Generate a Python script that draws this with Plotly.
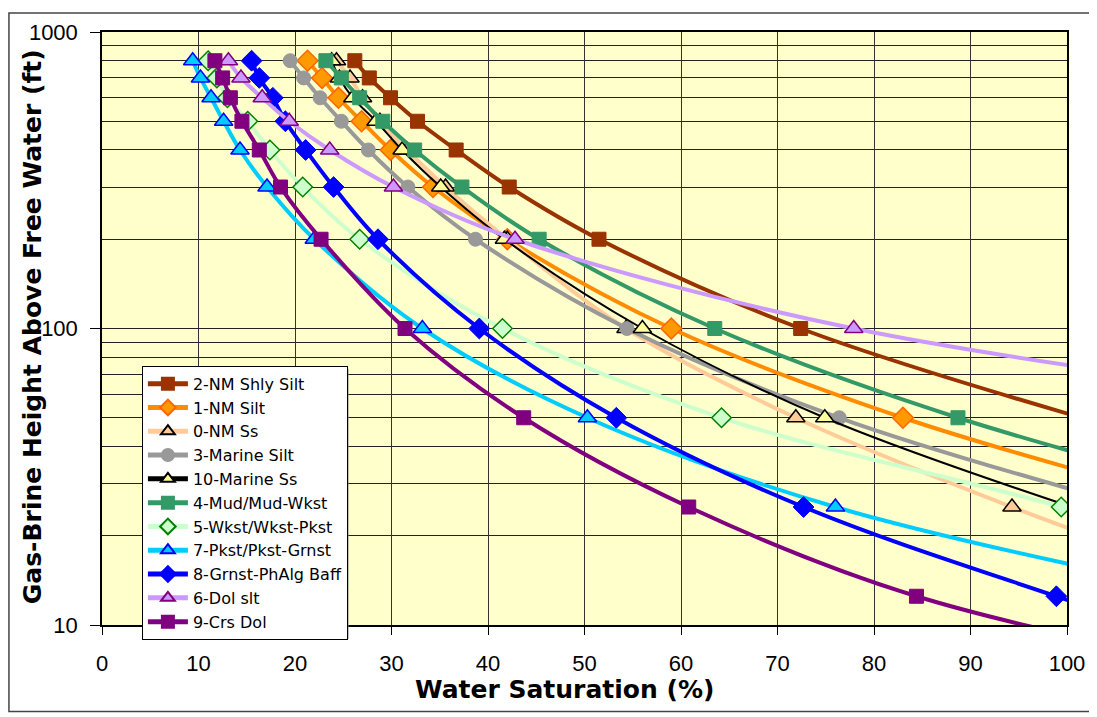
import plotly.graph_objects as go

# Gas-brine heights (ft) at which each curve is sampled
heights = [800, 700, 600, 500, 400, 300, 200, 100, 50, 25, 12.5, 6.25]

# Water saturation (%) read at each height (values > 100 lie past the right edge)
sw_2nm_shly_silt = [26.2, 27.7, 29.9, 32.7, 36.7, 42.2, 51.5, 72.4, 101.5]
sw_1nm_silt = [21.3, 22.8, 24.5, 26.9, 29.9, 34.3, 42.0, 59.0, 83.0, 115.0]
sw_0nm_ss = [24.3, 25.7, 27.0, 28.8, 31.6, 35.6, 42.0, 54.3, 71.9, 94.3, 120.0]
sw_3marine_silt = [19.5, 20.9, 22.6, 24.8, 27.6, 31.7, 38.7, 54.4, 76.4, 107.0]
sw_10marine_ss = [23.8, 24.6, 26.0, 28.4, 31.1, 35.1, 41.7, 56.0, 74.9, 100.5]
sw_4mud = [23.2, 24.8, 26.7, 29.1, 32.4, 37.3, 45.3, 63.5, 88.7, 122.0]
sw_5wkst = [11.0, 11.9, 13.0, 15.1, 17.4, 20.8, 26.7, 41.5, 64.2, 99.4, 130.0]
sw_7pkst = [9.4, 10.2, 11.3, 12.6, 14.3, 17.1, 22.0, 33.2, 50.3, 76.0, 116.0]
sw_8grnst = [15.5, 16.3, 17.7, 19.0, 21.1, 24.0, 28.6, 39.1, 53.3, 72.7, 98.9, 128.0]
sw_6dol_slt = [13.1, 14.4, 16.6, 19.4, 23.6, 30.2, 42.8, 77.9, 140.0]
sw_9crs_dol = [11.7, 12.5, 13.3, 14.5, 16.3, 18.5, 22.7, 31.4, 43.7, 60.8, 84.4, 125.0]

series_names = ["2-NM Shly Silt", "1-NM Silt", "0-NM Ss", "3-Marine Silt", "10-Marine Ss",
                "4-Mud/Mud-Wkst", "5-Wkst/Wkst-Pkst", "7-Pkst/Pkst-Grnst",
                "8-Grnst-PhAlg Baff", "6-Dol slt", "9-Crs Dol"]

x_ticks = [0, 10, 20, 30, 40, 50, 60, 70, 80, 90, 100]
y_ticks = [10, 100, 1000]

styles = [
    # (values, line colour, line width, symbol, fill, edge colour, edge width, size)
    (sw_2nm_shly_silt, "#993300", 4, "square", "#993300", "#993300", 1, 14),
    (sw_1nm_silt, "#FF8C00", 4, "diamond", "#FF9900", "#FF6600", 1.5, 16),
    (sw_0nm_ss, "#FFCC99", 4, "triangle-up", "#FFCC99", "#000000", 1.5, 16),
    (sw_3marine_silt, "#999999", 4, "circle", "#999999", "#999999", 1, 14),
    (sw_10marine_ss, "#000000", 2, "triangle-up", "#FFFF99", "#000000", 1.5, 16),
    (sw_4mud, "#339966", 4, "square", "#339966", "#339966", 1, 14),
    (sw_5wkst, "#CCFFCC", 4, "diamond", "#CCFFCC", "#008000", 1.5, 15),
    (sw_7pkst, "#00CCFF", 4, "triangle-up", "#00CCFF", "#0000FF", 1.5, 16),
    (sw_8grnst, "#0000FF", 4, "diamond", "#0000FF", "#0000FF", 1, 16),
    (sw_6dol_slt, "#CC99FF", 4, "triangle-up", "#CC99FF", "#800080", 1.5, 16),
    (sw_9crs_dol, "#800080", 4, "square", "#800080", "#800080", 1, 14),
]

fig = go.Figure()
for name, (vals, lc, lw, sym, fc, ec, ew, ms) in zip(series_names, styles):
    fig.add_trace(go.Scatter(
        x=vals, y=heights[:len(vals)], name=name, mode="lines+markers",
        line=dict(color=lc, width=lw, shape="spline", smoothing=1.0),
        marker=dict(symbol=sym, color=fc, size=ms, line=dict(color=ec, width=ew)),
    ))

# page has an 8px body margin, so the figure is 8px smaller than the window
W, H = 1089, 709
ML, MR, MT, MB = 94, 28, 20, 92
PW, PH = W - ML - MR, H - MT - MB
PX0, PY1 = 102, 625  # plot-area left / bottom in page pixels


def px_x(p):
    return (p - PX0) / PW


def px_y(p):
    return (PY1 - p) / PH


fig.update_layout(
    width=W, height=H,
    margin=dict(l=ML, r=MR, t=MT, b=MB),
    paper_bgcolor="white", plot_bgcolor="#FFFFCC",
    font=dict(family="Liberation Sans, Arial", color="black"),
    showlegend=True,
    legend=dict(
        x=px_x(142), y=px_y(364), xanchor="left", yanchor="top",
        bgcolor="white", bordercolor="black", borderwidth=1,
        font=dict(size=16, family="DejaVu Sans", color="black"),
        tracegroupgap=0, itemsizing="constant", itemwidth=40,
    ),
)

fig.update_xaxes(
    range=[0, 100], tickvals=x_ticks, ticks="outside", ticklen=8, tickcolor="black",
    tickfont=dict(size=22), ticklabelstandoff=10,
    showgrid=True, gridcolor="#333333", gridwidth=1,
    showline=True, linecolor="black", linewidth=1.5, mirror=True, zeroline=False,
)
fig.update_yaxes(
    type="log", range=[1, 3], tickvals=y_ticks, ticktext=[str(v) for v in y_ticks],
    ticks="outside", ticklen=10, tickcolor="black", tickfont=dict(size=22),
    ticklabelstandoff=8,
    showgrid=True, gridcolor="#222222", gridwidth=1,
    minor=dict(dtick="D1", showgrid=True, gridcolor="#222222", gridwidth=1, ticks=""),
    showline=True, linecolor="black", linewidth=1.5, mirror=True,
)

fig.add_annotation(text="<b>Water Saturation (%)</b>", xref="paper", yref="paper",
                   x=px_x(565), y=px_y(690), xanchor="center", yanchor="middle",
                   showarrow=False, font=dict(size=25, family="DejaVu Sans"))
fig.add_annotation(text="<b>Gas-Brine Height Above Free Water (ft)</b>", xref="paper",
                   yref="paper", x=px_x(32), y=px_y(325), xanchor="center", yanchor="middle",
                   showarrow=False, textangle=-90,
                   font=dict(size=25, family="DejaVu Sans"))

# legend drop shadow
fig.add_shape(type="rect", xref="paper", yref="paper",
              x0=px_x(145), x1=px_x(349), y0=px_y(639), y1=px_y(367),
              line=dict(width=0), fillcolor="#808080", layer="above")

# outer chart frame
fig.add_shape(type="rect", xref="paper", yref="paper",
              x0=(0.75 - ML) / PW, x1=(W - 0.75 - ML) / PW,
              y0=((H - MB) - 704) / PH, y1=((H - MB) - 0.75) / PH,
              line=dict(color="#444444", width=1.5), fillcolor="rgba(0,0,0,0)", layer="below")

fig.write_html("out.html")
